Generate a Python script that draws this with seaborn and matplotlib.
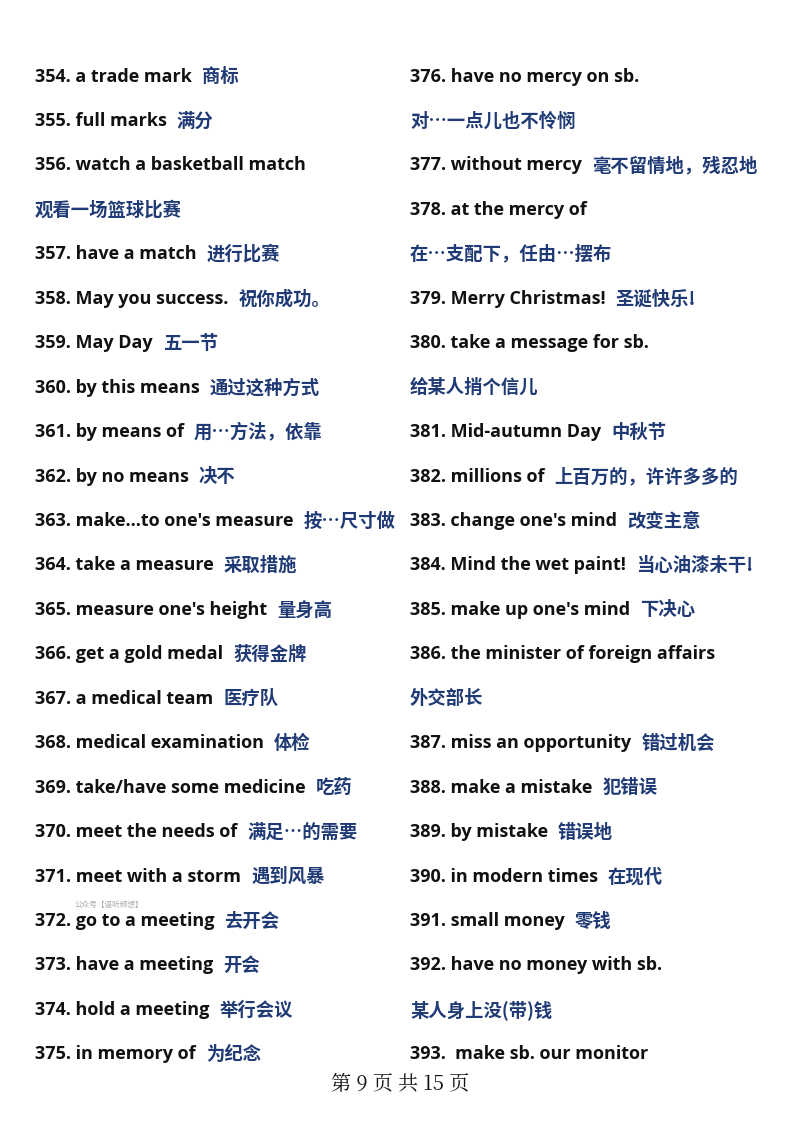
import matplotlib
matplotlib.use("Agg")
import matplotlib.pyplot as plt
import seaborn as sns

left_en = ["354. a trade mark","355. full marks","356. watch a basketball match","","357. have a match",
 "358. May you success.","359. May Day","360. by this means","361. by means of","362. by no means",
 "363. make...to one's measure","364. take a measure","365. measure one's height","366. get a gold medal",
 "367. a medical team","368. medical examination","369. take/have some medicine","370. meet the needs of",
 "371. meet with a storm","372. go to a meeting","373. have a meeting","374. hold a meeting","375. in memory of"]
left_zh = ["商标","满分","","观看一场篮球比赛","进行比赛","祝你成功。","五一节","通过这种方式","用…方法，依靠","决不",
 "按…尺寸做","采取措施","量身高","获得金牌","医疗队","体检","吃药","满足…的需要","遇到风暴","去开会","开会","举行会议","为纪念"]
right_en = ["376. have no mercy on sb.","","377. without mercy","378. at the mercy of","","379. Merry Christmas!",
 "380. take a message for sb.","","381. Mid-autumn Day","382. millions of","383. change one's mind",
 "384. Mind the wet paint!","385. make up one's mind","386. the minister of foreign affairs","",
 "387. miss an opportunity","388. make a mistake","389. by mistake","390. in modern times","391. small money",
 "392. have no money with sb.","","393.  make sb. our monitor"]
right_zh = ["","对…一点儿也不怜悯","毫不留情地，残忍地","","在…支配下，任由…摆布","圣诞快乐!","","给某人捎个信儿",
 "中秋节","上百万的，许许多多的","改变主意","当心油漆未干!","下决心","","外交部长","错过机会","犯错误","错误地",
 "在现代","零钱","","某人身上没(带)钱",""]
footer = "第 9 页 共 15 页"
watermark = "公众号【语听频想】"

sns.set_theme(style="white")
plt.rcParams['font.family'] = ['Noto Sans CJK SC', 'DejaVu Sans']
W, H = 800, 1131
fig = plt.figure(figsize=(8, 11.31), dpi=100)
ax = fig.add_axes([0, 0, 1, 1])
ax.set_xlim(0, W); ax.set_ylim(H, 0); ax.axis('off')
fig.canvas.draw()
r = fig.canvas.get_renderer()
blue = "#1f3a75"
y0, dy = 76.5, 44.45
for x0, ens, zhs in [(35, left_en, left_zh), (410, right_en, right_zh)]:
    for i, (en, zh) in enumerate(zip(ens, zhs)):
        y = y0 + i * dy
        x = x0
        if en:
            t = ax.text(x, y, en, fontsize=13, fontweight='bold', color='#111111', va='center', ha='left',
                        family=['Open Sans', 'Noto Sans CJK SC'])
            bb = t.get_window_extent(r)
            x = x0 + bb.width + 10
        if zh:
            ax.text(x, y, zh, fontsize=13.2, fontweight='bold', color=blue, va='center', ha='left',
                    family=['Noto Sans CJK SC', 'Open Sans'])
ax.text(400, 1084, footer, fontsize=14.5, color='#111111', va='center', ha='center',
        family=['Noto Serif CJK SC', 'Noto Sans CJK SC', 'DejaVu Serif'])
ax.text(75, 905, watermark, fontsize=5.5, color='#aaaaaa', va='center', ha='left')
fig.savefig("out.png", dpi=100, facecolor='white')
